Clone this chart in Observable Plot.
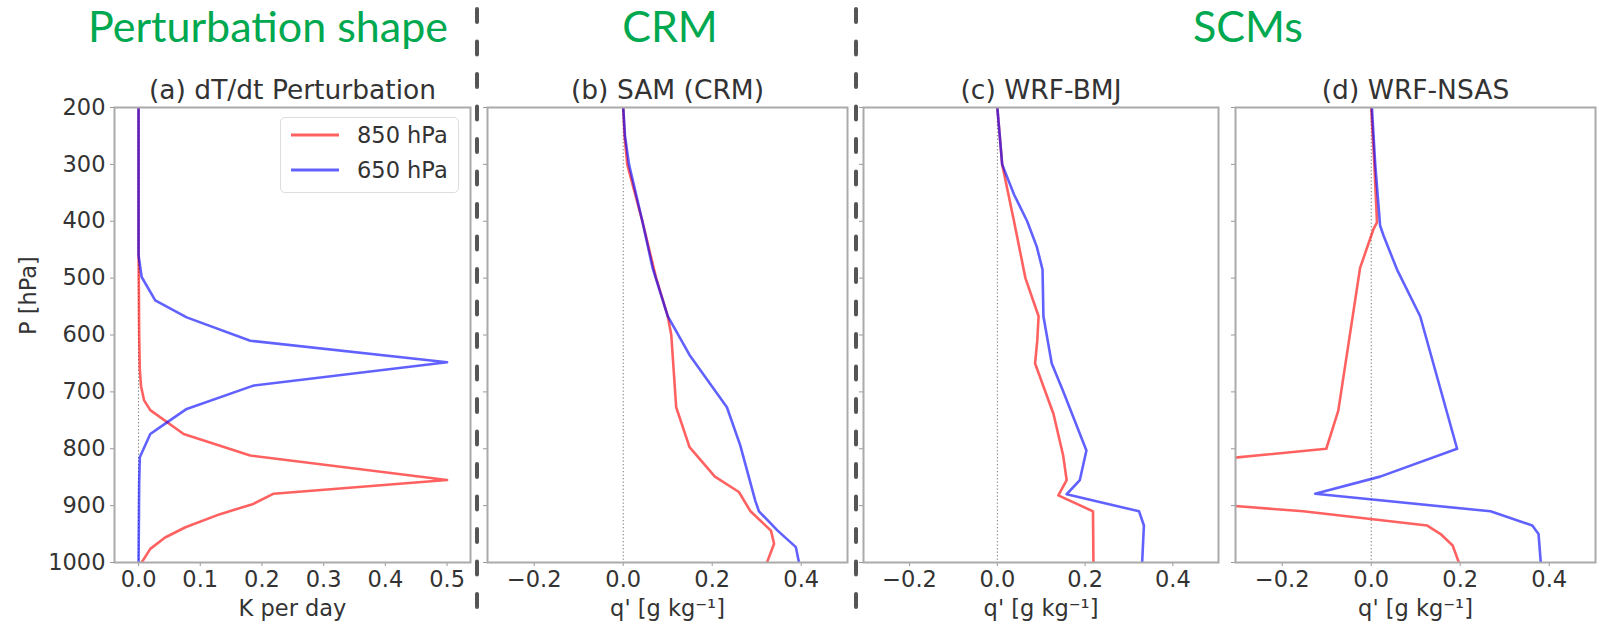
<!DOCTYPE html>
<html><head><meta charset="utf-8">
<script src="https://cdn.jsdelivr.net/npm/d3@7"></script>
<script src="https://cdn.jsdelivr.net/npm/@observablehq/plot@0.6"></script>
<style>
body{margin:0;background:#fff;}
#chart{position:relative;width:1606px;height:625px;overflow:hidden;font-family:"DejaVu Sans",sans-serif;}
#chart > svg, #chart > div.abs {position:absolute;top:0;}
</style></head><body><div id="chart"></div>
<script>
// ---- labels and ticks ----
const sectionHeaders = ["Perturbation shape", "CRM", "SCMs"];
const panelTitles = ["(a) dT/dt Perturbation", "(b) SAM (CRM)", "(c) WRF-BMJ", "(d) WRF-NSAS"];
const xLabels = ["K per day", "q' [g kg\u207B\u00B9]", "q' [g kg\u207B\u00B9]", "q' [g kg\u207B\u00B9]"];
const yLabel = "P [hPa]";
const pressureTicks = [200, 300, 400, 500, 600, 700, 800, 900, 1000];
const heatingTicks = [0, 0.1, 0.2, 0.3, 0.4, 0.5];
const qTicks = [-0.2, 0, 0.2, 0.4];
const seriesNames = ["850 hPa", "650 hPa"];
const seriesColors = ["#ff0000", "#0000ff"];

// ---- (a) dT/dt perturbation [K/day] ----
const pA850 = [200, 450, 600, 660, 690, 715, 732, 774, 812, 855, 879, 897, 915, 938, 956, 976, 1000];
const dTdtA850 = [0, 0, 0.001, 0.002, 0.004, 0.009, 0.019, 0.073, 0.181, 0.5, 0.219, 0.186, 0.132, 0.076, 0.043, 0.019, 0.005];
const pA650 = [200, 460, 498, 539, 569, 610, 648, 689, 730, 762, 774, 815, 860, 1000];
const dTdtA650 = [0, 0, 0.005, 0.027, 0.078, 0.181, 0.5, 0.186, 0.078, 0.035, 0.019, 0.002, 0.001, 0];

// ---- (b) SAM (CRM) q' [g/kg] ----
const pB850 = [200, 250, 300, 400, 500, 567, 600, 727, 797, 849, 876, 910, 944, 967, 1000];
const qB850 = [0, 0.003, 0.009, 0.043, 0.074, 0.10, 0.108, 0.119, 0.149, 0.206, 0.26, 0.286, 0.332, 0.339, 0.323];
const pB650 = [200, 250, 300, 400, 482, 567, 635, 727, 794, 892, 910, 944, 973, 1000];
const qB650 = [0, 0.004, 0.013, 0.043, 0.066, 0.10, 0.149, 0.233, 0.263, 0.297, 0.305, 0.347, 0.388, 0.395];

// ---- (c) WRF-BMJ q' [g/kg] ----
const pC850 = [200, 300, 400, 500, 567, 610, 650, 739, 812, 855, 882, 910, 1000];
const qC850 = [0, 0.011, 0.038, 0.064, 0.094, 0.091, 0.086, 0.128, 0.15, 0.158, 0.139, 0.218, 0.219];
const pC650 = [200, 300, 353, 400, 445, 485, 567, 650, 699, 803, 855, 880, 910, 935, 1000];
const qC650 = [0, 0.011, 0.038, 0.068, 0.09, 0.103, 0.105, 0.124, 0.15, 0.203, 0.188, 0.158, 0.323, 0.334, 0.330];

// ---- (d) WRF-NSAS q' [g/kg] ----
const pD850 = [200, 300, 402, 414, 482, 733, 800, 850, 880, 910, 935, 950, 970, 1000];
const qD850 = [0, 0.007, 0.013, 0.005, -0.025, -0.074, -0.101, -0.76, -0.64, -0.153, 0.126, 0.156, 0.183, 0.197];
const pD650 = [200, 300, 408, 426, 485, 567, 800, 849, 879, 910, 935, 950, 1000];
const qD650 = [0.0015, 0.009, 0.02, 0.028, 0.058, 0.11, 0.193, 0.02, -0.126, 0.268, 0.362, 0.376, 0.381];

const panels = [
  {p: [pA850, pA650], v: [dTdtA850, dTdtA650], domain: [-0.039, 0.538], ticks: heatingTicks, left: 114, fw: 356, yLabels: true},
  {p: [pB850, pB650], v: [qB850, qB650], domain: [-0.305, 0.504], ticks: qTicks, left: 487, fw: 360, yLabels: false},
  {p: [pC850, pC650], v: [qC850, qC650], domain: [-0.305, 0.504], ticks: qTicks, left: 863, fw: 355, yLabels: false},
  {p: [pD850, pD650], v: [qD850, qD650], domain: [-0.305, 0.504], ticks: qTicks, left: 1235, fw: 360, yLabels: false}
];

const chart = document.getElementById("chart");
const fmt = d3.format(".1f");

panels.forEach((pn, i) => {
  const rows = pn.p.flatMap((ps, s) => ps.map((p, k) => ({p, v: pn.v[s][k], series: seriesNames[s]})));
  const ml = pn.yLabels ? pn.left : 12;
  const mr = 12;
  const plot = Plot.plot({
    width: ml + pn.fw + mr,
    height: 625,
    marginTop: 107,
    marginBottom: 63,
    marginLeft: ml,
    marginRight: mr,
    style: {fontFamily: "DejaVu Sans, sans-serif", fontSize: "22.5px", color: "#333", background: "transparent", overflow: "visible"},
    x: {domain: pn.domain},
    y: {domain: [1000, 200]},
    color: {domain: seriesNames, range: seriesColors},
    marks: [
      Plot.ruleX([0], {stroke: "#777", strokeWidth: 1, strokeDasharray: "1.3,2.2"}),
      Plot.line(rows, {x: "v", y: "p", z: "series", stroke: "series", strokeOpacity: 0.62, strokeWidth: 2.6, clip: true}),
      Plot.axisX({ticks: pn.ticks, tickFormat: fmt, tickSize: 4, tickPadding: 5, stroke: "#999", fill: "#333", label: null}),
      Plot.axisY({ticks: pressureTicks, tickSize: 4, tickPadding: 5, tickFormat: pn.yLabels ? (d => String(d)) : (() => ""), stroke: "#999", fill: "#333", label: null}),
      Plot.frame({stroke: "#aaa", strokeWidth: 2}),
      Plot.text([panelTitles[i]], {frameAnchor: "top", lineAnchor: "middle", dy: -17, fontSize: 26.5, fill: "#333"}),
      Plot.text([xLabels[i]], {frameAnchor: "bottom", lineAnchor: "middle", dy: 46, fill: "#333"}),
      pn.yLabels ? Plot.text([yLabel], {frameAnchor: "left", lineAnchor: "middle", dx: -86, rotate: -90, fill: "#333"}) : null
    ]
  });
  plot.style.position = "absolute";
  plot.style.left = (pn.left - ml) + "px";
  plot.style.top = "0px";
  plot.style.maxWidth = "none";
  chart.appendChild(plot);
});

// legend in panel (a)
const legend = document.createElement("div");
legend.className = "abs";
legend.style.cssText = "position:absolute;left:280px;top:117px;width:177px;height:74px;border:1.5px solid #ddd;border-radius:5px;background:rgba(255,255,255,0.85);";
seriesNames.forEach((name, s) => {
  const row = document.createElement("div");
  row.style.cssText = `position:absolute;left:8px;top:${2 + s * 35}px;height:30px;display:flex;align-items:center;font:22.5px 'DejaVu Sans',sans-serif;color:#333;`;
  row.innerHTML = `<svg width="60" height="30" style="margin-right:8px"><line x1="2" x2="50" y1="15" y2="15" stroke="${seriesColors[s]}" stroke-opacity="0.62" stroke-width="3"/></svg>${name}`;
  legend.appendChild(row);
});
chart.appendChild(legend);

// overlay: section headers and dashed separators
const overlay = d3.create("svg").attr("width", 1606).attr("height", 625)
  .style("position", "absolute").style("left", 0).style("top", 0).style("pointer-events", "none");
const headerX = [268, 670, 1248];
overlay.selectAll("text.h").data(sectionHeaders).join("text")
  .attr("x", (d, i) => headerX[i]).attr("y", 42)
  .attr("text-anchor", "middle")
  .attr("fill", "#00a84f")
  .style("font", "43px Lato, sans-serif")
  .text(d => d);
overlay.selectAll("line.sep").data([477, 856]).join("line")
  .attr("x1", d => d).attr("x2", d => d).attr("y1", 9).attr("y2", 625)
  .attr("stroke", "#555").attr("stroke-width", 4).attr("stroke-linecap", "round")
  .attr("stroke-dasharray", "13,19.5");
chart.appendChild(overlay.node());
</script>
</body></html>
